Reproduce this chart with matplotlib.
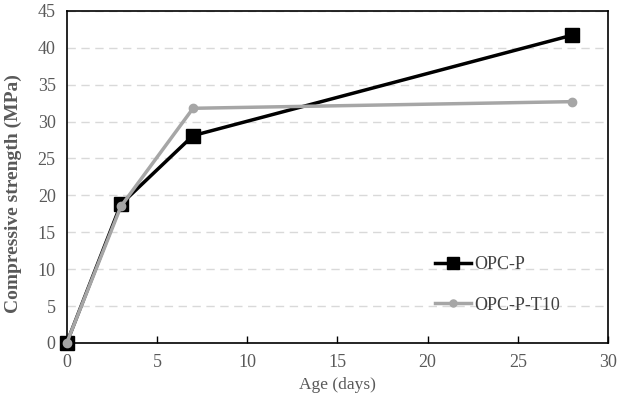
import matplotlib
matplotlib.use("Agg")
import matplotlib.pyplot as plt

age = [0, 3, 7, 28]
opc_p = [0, 18.8, 28.1, 41.7]
opc_p_t10 = [0, 18.5, 31.8, 32.7]
series_names = ["OPC-P", "OPC-P-T10"]
xticks = [0, 5, 10, 15, 20, 25, 30]
yticks = [0, 5, 10, 15, 20, 25, 30, 35, 40, 45]

plt.rcParams['font.family'] = ['Liberation Serif', 'DejaVu Serif']

fig = plt.figure(figsize=(6.18, 4.03), dpi=100)
ax = fig.add_axes([0.108, 0.149, 0.876, 0.824])

ax.plot(age, opc_p, color='black', lw=2.5, marker='s', ms=10, label=series_names[0], zorder=3, clip_on=False)
ax.plot(age, opc_p_t10, color='#a6a6a6', lw=2.5, marker='o', ms=6, label=series_names[1], zorder=4, clip_on=False)

ax.set_xlim(0, 30)
ax.set_ylim(0, 45)
ax.set_xticks(xticks)
ax.set_yticks(yticks)
ax.yaxis.grid(True, color='#d9d9d9', linestyle=(0, (6, 4)), lw=1)
ax.set_axisbelow(True)
for s in ax.spines.values():
    s.set_color('black')
    s.set_linewidth(1.2)
ax.tick_params(axis='x', direction='in', length=5, width=1, colors='black', labelcolor='#595959', labelsize=13, pad=8)
ax.tick_params(axis='y', length=0, labelcolor='#595959', labelsize=13, pad=8)

ax.set_xlabel('Age (days)', color='#595959', fontsize=12.5, labelpad=4)
ax.set_ylabel('Compressive strength (MPa)', color='#595959', fontsize=14, fontweight='bold')
ax.yaxis.set_label_coords(-0.082, 0.45)

ax.legend(loc='upper left', bbox_to_anchor=(0.65, 0.31), frameon=False, fontsize=13,
          handlelength=2.0, handletextpad=0.2, labelspacing=1.3, labelcolor='#404040', markerscale=0.85)

fig.savefig('out.png', dpi=100)
